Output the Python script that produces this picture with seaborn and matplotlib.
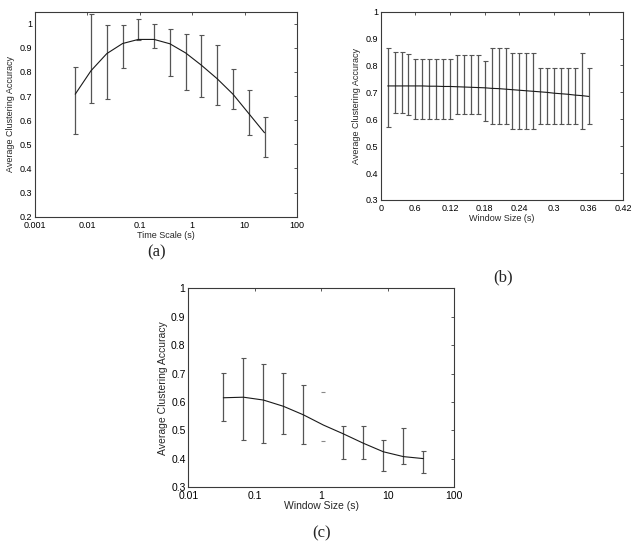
import matplotlib
matplotlib.use("Agg")
import matplotlib.pyplot as plt
import matplotlib.ticker as mticker
import seaborn as sns
import pandas as pd

# ------------------------------------------------------------
# data
# ------------------------------------------------------------
# (a) time scale
a_x = [0.00586, 0.0117, 0.0234, 0.0469, 0.0938, 0.1875, 0.375,
       0.75, 1.5, 3.0, 6.0, 12.0, 24.0]
a_fit = [0.708, 0.805, 0.876, 0.918, 0.935, 0.935, 0.917,
         0.879, 0.828, 0.772, 0.708, 0.628, 0.548]
a_low = [0.541, 0.673, 0.690, 0.818, 0.934, 0.901, 0.785,
         0.727, 0.697, 0.665, 0.648, 0.538, 0.448]
a_high = [0.821, 1.039, 0.996, 0.996, 1.018, 1.000, 0.977,
          0.959, 0.952, 0.910, 0.814, 0.727, 0.615]
a_xticks = [0.001, 0.01, 0.1, 1, 10, 100]

# (b) window size, linear
b_x = [0.012 * k for k in range(1, 31)]
b_fit = [0.724, 0.724, 0.724, 0.724, 0.724, 0.724, 0.723, 0.723, 0.722, 0.722,
         0.721, 0.720, 0.719, 0.718, 0.717, 0.715, 0.714, 0.712, 0.710, 0.708,
         0.706, 0.704, 0.702, 0.700, 0.697, 0.695, 0.693, 0.690, 0.688, 0.685]
b_low = [0.571, 0.623, 0.623, 0.615, 0.600, 0.600, 0.600, 0.600, 0.600, 0.600,
         0.618, 0.618, 0.618, 0.618, 0.595, 0.581, 0.581, 0.581, 0.564, 0.564,
         0.564, 0.564, 0.581, 0.581, 0.581, 0.581, 0.581, 0.581, 0.564, 0.581]
b_high = [0.866, 0.849, 0.849, 0.844, 0.824, 0.824, 0.824, 0.824, 0.824, 0.824,
          0.839, 0.839, 0.839, 0.839, 0.815, 0.866, 0.866, 0.866, 0.846, 0.846,
          0.846, 0.846, 0.792, 0.792, 0.792, 0.792, 0.792, 0.792, 0.846, 0.792]
b_xticks = [0, 0.06, 0.12, 0.18, 0.24, 0.30, 0.36, 0.42]
b_xticklabels = ["0", "0.6", "0.12", "0.18", "0.24", "0.3", "0.36", "0.42"]

# (c) window size, log
c_x = [0.0337, 0.0675, 0.135, 0.27, 0.54, 1.08, 2.16, 4.32, 8.64, 17.3, 34.6]
c_fit = [0.615, 0.617, 0.607, 0.585, 0.555, 0.519, 0.488, 0.455, 0.425, 0.408, 0.401]
c_low = [0.533, 0.467, 0.455, 0.487, 0.452, 0.462, 0.398, 0.398, 0.359, 0.382, 0.349]
c_high = [0.701, 0.755, 0.733, 0.703, 0.660, 0.637, 0.515, 0.515, 0.465, 0.508, 0.426]
c_capsonly = [False, False, False, False, False, True, False, False, False, False, False]
c_xticks = [0.01, 0.1, 1, 10, 100]

# ------------------------------------------------------------
# style
# ------------------------------------------------------------
sns.set_theme(style="white")
plt.rcParams["font.family"] = ["Liberation Sans", "DejaVu Sans"]
plt.rcParams["axes.edgecolor"] = "#3a3a3a"
plt.rcParams["axes.linewidth"] = 0.8

BAR_COLOR = "#555555"
LINE_COLOR = "#1a1a1a"


def style_axes(ax, fs):
    ax.tick_params(direction="in", top=True, right=True, length=2.5,
                   width=0.6, colors="#3a3a3a", labelcolor="black",
                   labelsize=fs, pad=2)
    ax.tick_params(axis="x", pad=3)
    ax.tick_params(which="minor", length=0)
    ax.yaxis.set_major_formatter(mticker.FuncFormatter(lambda v, p: f"{v:g}"))


def draw_panel(ax, xs, fit, low, high, caps_only=None):
    df = pd.DataFrame({"x": xs, "fit": fit, "low": low, "high": high})
    if caps_only is None:
        caps_only = [False] * len(xs)
    df["caps"] = caps_only
    full = df[~df["caps"]]
    ax.errorbar(full["x"], full["fit"],
                yerr=[full["fit"] - full["low"], full["high"] - full["fit"]],
                fmt="none", ecolor=BAR_COLOR, elinewidth=0.9,
                capsize=1.8, capthick=0.8)
    # bar whose vertical line is missing in the original: caps only
    part = df[df["caps"]]
    if len(part):
        ax.scatter(part["x"], part["low"], marker="_", s=12,
                   color="#888888", linewidths=0.8)
        ax.scatter(part["x"], part["high"], marker="_", s=12,
                   color="#888888", linewidths=0.8)
    sns.lineplot(data=df, x="x", y="fit", ax=ax, color=LINE_COLOR,
                 linewidth=0.8, sort=False)


fig = plt.figure(figsize=(6.41, 5.44), dpi=100)

# (a)
ax_a = fig.add_axes([0.0546, 0.6017, 0.4087, 0.3768])
draw_panel(ax_a, a_x, a_fit, a_low, a_high)
ax_a.set_xscale("log")
ax_a.set_xlim(0.001, 100)
ax_a.set_ylim(0.2, 1.05)
ax_a.set_xticks(a_xticks)
ax_a.xaxis.set_major_formatter(mticker.FuncFormatter(lambda v, p: f"{v:g}"))
ax_a.set_yticks([0.2, 0.3, 0.4, 0.5, 0.6, 0.7, 0.8, 0.9, 1.0])
style_axes(ax_a, 6.5)
ax_a.set_xlabel("Time Scale (s)", fontsize=6.5, labelpad=0.5)
ax_a.set_ylabel("Average Clustering Accuracy", fontsize=6.5, labelpad=3)

# (b)
ax_b = fig.add_axes([0.594, 0.6324, 0.3785, 0.3461])
draw_panel(ax_b, b_x, b_fit, b_low, b_high)
ax_b.set_xlim(0, 0.42)
ax_b.set_ylim(0.3, 1.0)
ax_b.set_xticks(b_xticks)
ax_b.set_xticklabels(b_xticklabels)
ax_b.set_yticks([0.3, 0.4, 0.5, 0.6, 0.7, 0.8, 0.9, 1.0])
style_axes(ax_b, 6.5)
ax_b.set_xlabel("Window Size (s)", fontsize=6.5, labelpad=0.5)
ax_b.set_ylabel("Average Clustering Accuracy", fontsize=6.5, labelpad=3)

# (c)
ax_c = fig.add_axes([0.2938, 0.1042, 0.4145, 0.3658])
draw_panel(ax_c, c_x, c_fit, c_low, c_high, c_capsonly)
ax_c.set_xscale("log")
ax_c.set_xlim(0.01, 100)
ax_c.set_ylim(0.3, 1.0)
ax_c.set_xticks(c_xticks)
ax_c.xaxis.set_major_formatter(mticker.FuncFormatter(lambda v, p: f"{v:g}"))
ax_c.set_yticks([0.3, 0.4, 0.5, 0.6, 0.7, 0.8, 0.9, 1.0])
style_axes(ax_c, 7.5)
ax_c.set_xlabel("Window Size (s)", fontsize=7.5, labelpad=0)
ax_c.set_ylabel("Average Clustering Accuracy", fontsize=7.5, labelpad=2)

# panel captions
for label, (px, py) in {"(a)": (157, 252), "(b)": (503, 277),
                        "(c)": (322, 533)}.items():
    fig.text(px / 641, 1 - py / 544, label, ha="center", va="center",
             fontsize=12, family=["Liberation Serif", "DejaVu Serif"])

fig.savefig("out.png", dpi=100)
